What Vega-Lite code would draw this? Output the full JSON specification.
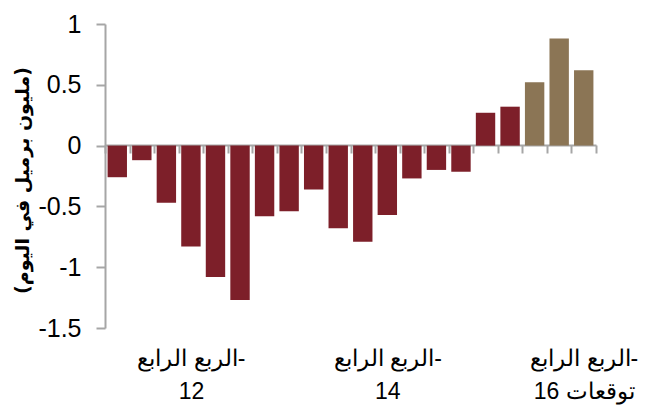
{
  "$schema": "https://vega.github.io/schema/vega-lite/v6.json",
  "width": 491,
  "height": 304,
  "autosize": {"type": "none"},
  "padding": {"left": 105, "top": 24, "right": 50, "bottom": 79},
  "background": "white",
  "config": {
    "view": {"stroke": null},
    "font": "Liberation Sans"
  },
  "data": {
    "values": [
      {"quarter": "الربع الأول-12", "value": -0.26, "kind": "فعلي"},
      {"quarter": "الربع الثاني-12", "value": -0.12, "kind": "فعلي"},
      {"quarter": "الربع الثالث-12", "value": -0.47, "kind": "فعلي"},
      {"quarter": "الربع الرابع-12", "value": -0.83, "kind": "فعلي"},
      {"quarter": "الربع الأول-13", "value": -1.08, "kind": "فعلي"},
      {"quarter": "الربع الثاني-13", "value": -1.27, "kind": "فعلي"},
      {"quarter": "الربع الثالث-13", "value": -0.58, "kind": "فعلي"},
      {"quarter": "الربع الرابع-13", "value": -0.54, "kind": "فعلي"},
      {"quarter": "الربع الأول-14", "value": -0.36, "kind": "فعلي"},
      {"quarter": "الربع الثاني-14", "value": -0.68, "kind": "فعلي"},
      {"quarter": "الربع الثالث-14", "value": -0.79, "kind": "فعلي"},
      {"quarter": "الربع الرابع-14", "value": -0.57, "kind": "فعلي"},
      {"quarter": "الربع الأول-15", "value": -0.27, "kind": "فعلي"},
      {"quarter": "الربع الثاني-15", "value": -0.2, "kind": "فعلي"},
      {"quarter": "الربع الثالث-15", "value": -0.215, "kind": "فعلي"},
      {"quarter": "الربع الرابع-15", "value": 0.27, "kind": "فعلي"},
      {"quarter": "الربع الأول-16", "value": 0.32, "kind": "فعلي"},
      {"quarter": "الربع الثاني-16 توقعات", "value": 0.52, "kind": "توقعات"},
      {"quarter": "الربع الثالث-16 توقعات", "value": 0.88, "kind": "توقعات"},
      {"quarter": "الربع الرابع-16 توقعات", "value": 0.62, "kind": "توقعات"}
    ]
  },
  "mark": {"type": "bar", "width": {"band": 0.79}},
  "encoding": {
    "x": {
      "field": "quarter",
      "type": "nominal",
      "sort": null,
      "scale": {"paddingInner": 0, "paddingOuter": 0},
      "axis": {
        "orient": "bottom",
        "offset": -183,
        "title": null,
        "domainColor": "#a6a6a6",
        "domainWidth": 2,
        "tickColor": "#a6a6a6",
        "tickWidth": 2,
        "tickSize": 8,
        "tickBand": "extent",
        "labelAngle": 0,
        "labelFont": "Liberation Sans",
        "labelFontSize": 23,
        "labelColor": "black",
        "labelBaseline": "top",
        "labelPadding": 194,
        "labelLineHeight": 33,
        "labelOverlap": false,
        "labelExpr": "(datum.index == 3/19 || datum.index == 11/19 || datum.index == 1) ? [substring(datum.value, 0, indexof(datum.value, '-') + 1), substring(datum.value, indexof(datum.value, '-') + 1)] : ''"
      }
    },
    "y": {
      "field": "value",
      "type": "quantitative",
      "scale": {"domain": [-1.5, 1], "nice": false},
      "axis": {
        "values": [-1.5, -1, -0.5, 0, 0.5, 1],
        "grid": false,
        "domainColor": "#a6a6a6",
        "domainWidth": 2,
        "tickColor": "#a6a6a6",
        "tickWidth": 2,
        "tickSize": 9,
        "labelFont": "Liberation Sans",
        "labelFontSize": 25,
        "labelColor": "black",
        "labelPadding": 15,
        "labelExpr": "datum.value",
        "title": "(مليون برميل في اليوم)",
        "titleFont": "DejaVu Sans",
        "titleFontSize": 19,
        "titleFontWeight": "bold",
        "titleColor": "black",
        "titleAngle": 270,
        "titleAlign": "center",
        "titleBaseline": "middle",
        "titleX": -83,
        "titleY": 156
      }
    },
    "color": {
      "field": "kind",
      "type": "nominal",
      "scale": {"domain": ["فعلي", "توقعات"], "range": ["#7D1F29", "#8B7555"]},
      "legend": null
    }
  }
}
